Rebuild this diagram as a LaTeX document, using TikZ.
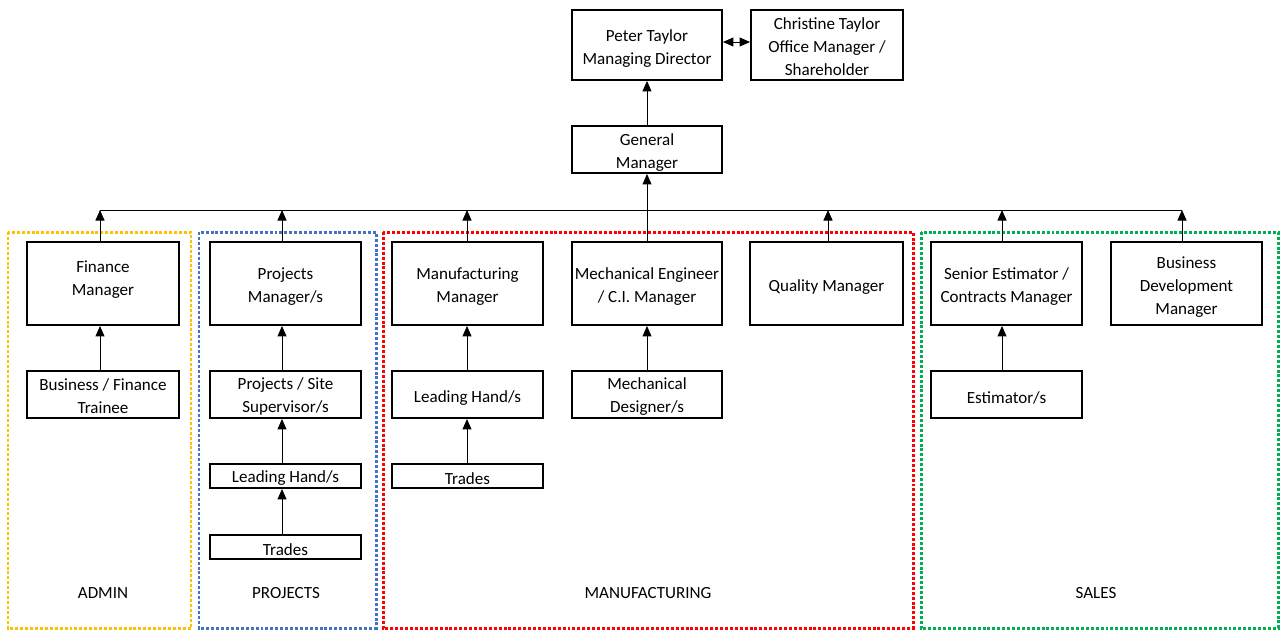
\documentclass[tikz,border=0pt]{standalone}
\usepackage{fontspec}
\setmainfont{Carlito}
\usetikzlibrary{arrows.meta}
\definecolor{cY}{HTML}{FFC000}
\definecolor{cB}{HTML}{4472C4}
\definecolor{cR}{HTML}{FF0000}
\definecolor{cG}{HTML}{00B050}
\newcommand{\Tp}{\rule{0pt}{10.4pt}}
\newcommand{\Ts}{\rule{0pt}{9pt}}
\begin{document}
\begin{tikzpicture}[x=0.02cm,y=-0.02cm,
  box/.style={draw, line width=1.1pt, align=center, inner sep=0pt,
    font=\fontsize{9.7}{13.1}\selectfont},
  lift/.style={execute at begin node={\rule{0pt}{#1}}},
  one/.style={lift=10.4pt},
  big/.style={box, minimum width=3.02cm, minimum height=1.66cm},
  mid/.style={box, minimum width=3.02cm, minimum height=0.94cm},
  small/.style={box, minimum width=3.02cm, minimum height=0.48cm, lift=9.4pt},
  conn/.style={line width=0.55pt, -{Triangle[width=0.18cm,length=0.21cm]}},
  both/.style={line width=0.55pt, {Triangle[width=0.18cm,length=0.21cm]}-{Triangle[width=0.18cm,length=0.21cm]}},
  grp/.style={line width=1.7pt, dash pattern=on 1.7pt off 1.1pt},
  lbl/.style={font=\fontsize{9.7}{13}\selectfont, inner sep=0pt}]
\useasboundingbox (0,0) rectangle (1280,630);

% group frames
\draw[grp, cY] (8,232) rectangle (191,628);
\draw[grp, cB] (199,232) rectangle (376,628);
\draw[grp, cR] (383,232) rectangle (913,628);
\draw[grp, cG] (921,232) rectangle (1278,628);

% top
\node[mid, minimum height=1.4cm, minimum width=3.0cm] (pt) at (647,45) {\Tp Peter Taylor\\Managing Director};
\node[mid, minimum height=1.4cm, minimum width=3.04cm] (ct) at (827,45) {\Ts Christine Taylor\\Office Manager /\\Shareholder};
\node[mid, minimum width=3.0cm] (gm) at (647,149.5) {\Tp General\\Manager};

% row 2
\node[big, minimum width=3.04cm] (fm) at (103,283.5) {Finance\\Manager\rule[-6.2pt]{0pt}{0pt}};
\node[big] (pm) at (285.5,283.5) {\Tp Projects\\Manager/s};
\node[big] (mm) at (467.5,283.5) {\Tp Manufacturing\\Manager};
\node[big, minimum width=3.0cm] (me) at (647,283.5) {\Tp Mechanical Engineer\\/ C.I. Manager};
\node[big, one, minimum width=3.06cm] (qm) at (826.5,283.5) {Quality Manager};
\node[big] (se) at (1006.5,283.5) {\Tp Senior Estimator /\\Contracts Manager};
\node[big] (bd) at (1186.5,283.5) {\Tp Business\\Development\\Manager};

% row 3
\node[mid, minimum width=3.04cm] (bt) at (103,394.5) {\Ts Business / Finance\\Trainee};
\node[mid] (ps) at (285.5,394.5) {\Ts Projects / Site\\Supervisor/s};
\node[mid, one] (ml) at (467.5,394.5) {Leading Hand/s};
\node[mid, minimum width=3.0cm] (md) at (647,394.5) {\Ts Mechanical\\Designer/s};
\node[mid, one] (es) at (1006.5,394.5) {Estimator/s};

% rows 4-5
\node[small] (pl) at (285.5,476) {Leading Hand/s};
\node[small] (ptr) at (285.5,547) {Trades};
\node[small] (mt) at (467.5,476) {Trades};

% labels
\node[lbl] (la) at (103,593) {ADMIN};
\node[lbl] (lp) at (286,593) {PROJECTS};
\node[lbl] (lm) at (648,593) {MANUFACTURING};
\node[lbl] (ls) at (1096,593) {SALES};

% bus
\coordinate (tF) at (100,210);
\coordinate (tP) at (282,210);
\coordinate (tM) at (467,210);
\coordinate (tQ) at (828,210);
\coordinate (tS) at (1002,210);
\coordinate (tB) at (1182,210);
\draw[line width=0.55pt] (tF) -- (tB);

\draw[conn] (fm.north -| tF) -- (tF);
\draw[conn] (pm.north -| tP) -- (tP);
\draw[conn] (mm.north -| tM) -- (tM);
\draw[conn] (qm.north -| tQ) -- (tQ);
\draw[conn] (se.north -| tS) -- (tS);
\draw[conn] (bd.north -| tB) -- (tB);

\draw[conn] (me.north) -- (gm.south);
\draw[conn] (gm.north) -- (pt.south);
\draw[both] ([yshift=0.06cm]pt.east) -- ([yshift=0.06cm]ct.west);

\draw[conn] (bt.north -| tF) -- (fm.south -| tF);
\draw[conn] (ps.north -| tP) -- (pm.south -| tP);
\draw[conn] (pl.north -| tP) -- (ps.south -| tP);
\draw[conn] (ptr.north -| tP) -- (pl.south -| tP);
\draw[conn] (ml.north -| tM) -- (mm.south -| tM);
\draw[conn] (mt.north -| tM) -- (ml.south -| tM);
\draw[conn] (md.north) -- (me.south);
\draw[conn] (es.north -| tS) -- (se.south -| tS);
\end{tikzpicture}
\end{document}
